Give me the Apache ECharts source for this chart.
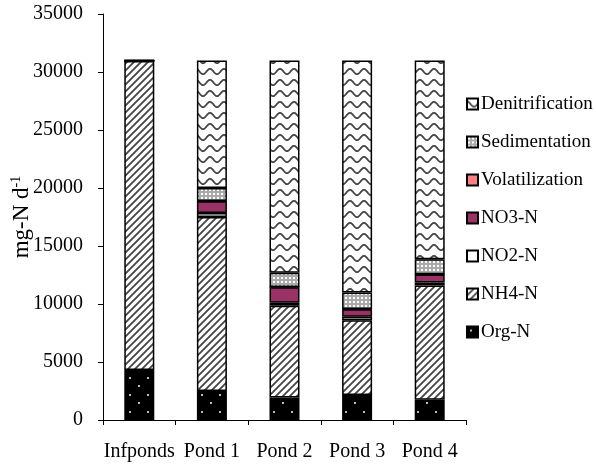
<!DOCTYPE html>
<html>
<head>
<meta charset="utf-8">
<script src="https://cdn.jsdelivr.net/npm/echarts@6/dist/echarts.min.js"></script>
<style>
  html, body { margin: 0; padding: 0; background: #fff; }
  #chart { width: 596px; height: 465px; }
</style>
</head>
<body>
<div id="chart"></div>
<script>
// Nitrogen mass balance per pond (mg-N per day)
const categories = ['Infponds', 'Pond 1', 'Pond 2', 'Pond 3', 'Pond 4'];
const orgN   = [4300, 2500, 1950, 2150, 1750];
const nh4N   = [26650, 15000, 7900, 6450, 9850];
const no2N   = [0, 350, 250, 300, 250];
const no3N   = [50, 1000, 1350, 650, 700];
const volat  = [0, 20, 20, 20, 20];
const sedim  = [0, 1130, 1230, 1430, 1280];
const denit  = [0, 11000, 18300, 20000, 17150];
const yTicks = { min: 0, max: 35000, step: 5000 };

const FONT = '"Liberation Serif", "Times New Roman", serif';

// Fill patterns drawn on small tiles
function pattern(w, h, draw) {
  const c = document.createElement('canvas');
  c.width = w; c.height = h;
  const g = c.getContext('2d');
  draw(g, w, h);
  return { image: c, repeat: 'repeat' };
}

const dotsOnBlack = pattern(18, 17, (g, w, h) => {
  g.fillStyle = '#000'; g.fillRect(0, 0, w, h);
  g.fillStyle = '#bbb';
  g.fillRect(3, 3, 2, 2);
  g.fillRect(12, 11, 2, 2);
});

const diagHatch = pattern(7, 7, (g, w, h) => {
  g.fillStyle = '#fff'; g.fillRect(0, 0, w, h);
  g.strokeStyle = '#444'; g.lineWidth = 1.8;
  g.beginPath();
  g.moveTo(-1, h + 1); g.lineTo(w + 1, -1);
  g.moveTo(-2, 2); g.lineTo(2, -2);
  g.moveTo(w - 2, h + 2); g.lineTo(w + 2, h - 2);
  g.stroke();
});

const fineGrid = pattern(4, 4, (g, w, h) => {
  g.fillStyle = '#aaaaaa'; g.fillRect(0, 0, w, h);
  g.fillStyle = '#fff'; g.fillRect(1, 1, 2, 2);
});

const waves = pattern(14, 11, (g, w, h) => {
  g.fillStyle = '#fff'; g.fillRect(0, 0, w, h);
  g.strokeStyle = '#444'; g.lineWidth = 1.8;
  g.beginPath();
  for (let x = 0; x <= w; x += 0.5) {
    const y = 5.5 - 2.6 * Math.cos(2 * Math.PI * x / w);
    if (x === 0) g.moveTo(x, y); else g.lineTo(x, y);
  }
  g.stroke();
});

const seriesDefs = [
  { name: 'Org-N', data: orgN, color: dotsOnBlack },
  { name: 'NH4-N', data: nh4N, color: diagHatch },
  { name: 'NO2-N', data: no2N, color: '#ffffff' },
  { name: 'NO3-N', data: no3N, color: '#993366' },
  { name: 'Volatilization', data: volat, color: '#FF8080' },
  { name: 'Sedimentation', data: sedim, color: fineGrid },
  { name: 'Denitrification', data: denit, color: waves }
];

const chart = echarts.init(document.getElementById('chart'), null, { renderer: 'canvas' });

chart.setOption({
  animation: false,
  backgroundColor: '#fff',
  textStyle: { fontFamily: FONT, color: '#000' },
  grid: { left: 103, right: 130, top: 14, bottom: 45, containLabel: false, outerBoundsMode: 'none' },
  legend: {
    orient: 'vertical',
    left: 466,
    top: 94,
    padding: 0,
    itemWidth: 11,
    itemHeight: 11,
    itemGap: 18,
    icon: 'rect',
    data: seriesDefs.map(s => s.name).reverse(),
    textStyle: { fontFamily: FONT, fontSize: 19, color: '#000', lineHeight: 20, padding: [0, 0, 0, -2] }
  },
  xAxis: {
    type: 'category',
    data: categories,
    axisLine: { lineStyle: { color: '#000', width: 1 } },
    axisTick: { show: true, length: 5, lineStyle: { color: '#000' } },
    axisLabel: { interval: 0, fontFamily: FONT, fontSize: 20, color: '#000', margin: 22 }
  },
  yAxis: {
    type: 'value',
    min: yTicks.min,
    max: yTicks.max,
    interval: yTicks.step,
    splitLine: { show: false },
    axisLine: { show: true, lineStyle: { color: '#000', width: 1 } },
    axisTick: { show: true, length: 5, lineStyle: { color: '#000' } },
    axisLabel: { fontFamily: FONT, fontSize: 20, color: '#000', margin: 20, formatter: v => String(v) },
    name: '{a|mg-N d}{s|-1}',
    nameLocation: 'middle',
    nameGap: 68,
    nameMoveOverlap: false,
    nameTextStyle: {
      rich: {
        a: { fontFamily: FONT, fontSize: 23, color: '#000', lineHeight: 26 },
        s: { fontFamily: FONT, fontSize: 14, color: '#000', lineHeight: 26, verticalAlign: 'top', padding: [0, 0, 10, 0] }
      }
    }
  },
  series: seriesDefs.map(s => ({
    name: s.name,
    type: 'bar',
    stack: 'total',
    barWidth: 30,
    data: s.data,
    itemStyle: { color: s.color, borderColor: '#000', borderWidth: 1.5 }
  }))
});
</script>
</body>
</html>
